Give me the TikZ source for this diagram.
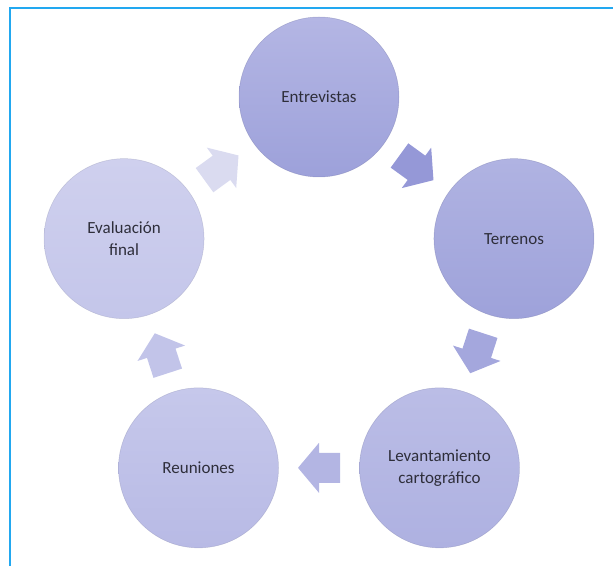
\documentclass[tikz,border=0pt]{standalone}
\usepackage{fontspec}
\setmainfont{Carlito}
\usetikzlibrary{calc}
\definecolor{frameblue}{HTML}{22A8F0}
\definecolor{txt}{HTML}{2E2E3A}
\definecolor{aA}{HTML}{9598D7}
\definecolor{aB}{HTML}{A4A7DD}
\definecolor{aC}{HTML}{B3B5E3}
\definecolor{aD}{HTML}{C2C4E9}
\definecolor{aE}{HTML}{DADBF0}
\newcommand\blockarr[4]{%
  \coordinate (#1) at #2;
  \begin{scope}[shift={(#1)}, rotate=#3]
    \fill[#4] (-21,-15) -- (0,-15) -- (0,-25) -- (21,0) -- (0,25) -- (0,15) -- (-21,15) -- cycle;
  \end{scope}}
\begin{document}
\begin{tikzpicture}[x=1pt,y=1pt,
  stepcircle/.style={circle, minimum size=160pt, inner sep=0pt, align=center,
    text=txt, font=\fontsize{17}{22}\selectfont, draw=#1!80!black, draw opacity=0.45, line width=0.5pt},
  ]
\useasboundingbox (0,0) rectangle (613,566);
\draw[frameblue, line width=1.2pt] (10,0) -- (10,558) -- (613,558);
\coordinate (ctr) at (319,264);
% circles
\node[stepcircle=aA, top color={rgb,255:red,180;green,182;blue,228}, bottom color={rgb,255:red,157;green,161;blue,218}] (ent) at ($(ctr)+(90:205)$) {Entrevistas};
\node[stepcircle=aA, top color={rgb,255:red,176;green,179;blue,226}, bottom color={rgb,255:red,158;green,162;blue,218}] (ter) at ($(ctr)+(18:205)$) {Terrenos};
\node[stepcircle=aB, top color={rgb,255:red,187;green,189;blue,230}, bottom color={rgb,255:red,174;green,177;blue,225}] (lev) at ($(ctr)+(-54:205)$) {Levantamiento\\cartográfico};
\node[stepcircle=aC, top color={rgb,255:red,198;green,200;blue,235}, bottom color={rgb,255:red,184;green,186;blue,229}] (reu) at ($(ctr)+(-126:205)$) {Reuniones};
\node[stepcircle=aD, top color={rgb,255:red,207;green,208;blue,238}, bottom color={rgb,255:red,196;green,198;blue,234}] (eva) at ($(ctr)+(162:205)$) {Evaluación\\final};
% arrows
\blockarr{a1}{($(ent)!0.5!(ter)$)}{-36}{aA}
\blockarr{a2}{($(ter)!0.5!(lev)$)}{-108}{aB}
\blockarr{a3}{($(lev)!0.5!(reu)$)}{180}{aC}
\blockarr{a4}{($(reu)!0.5!(eva)$)}{108}{aD}
\blockarr{a5}{($(eva)!0.5!(ent)$)}{36}{aE}
\end{tikzpicture}
\end{document}
